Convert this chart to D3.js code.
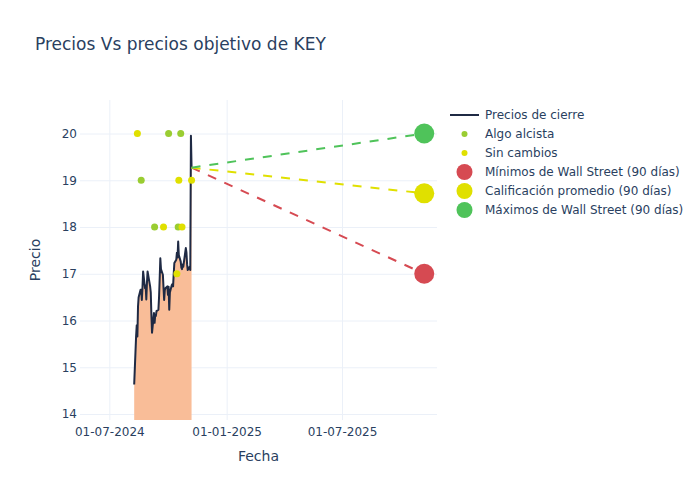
<!DOCTYPE html>
<html>
<head>
<meta charset="utf-8">
<script src="https://cdn.jsdelivr.net/npm/d3@7"></script>
<style>
  html, body { margin: 0; padding: 0; background: #fff; }
  svg, svg text { font-family: "DejaVu Sans", Verdana, sans-serif; }
</style>
</head>
<body>
<svg id="chart" width="700" height="500"></svg>
<script>
// ---------- data ----------
const priceDates = [
  "2024-08-09","2024-08-12","2024-08-13","2024-08-14","2024-08-15","2024-08-16",
  "2024-08-19","2024-08-20","2024-08-21","2024-08-22","2024-08-23",
  "2024-08-26","2024-08-27","2024-08-28","2024-08-29","2024-08-30",
  "2024-09-03","2024-09-04","2024-09-05","2024-09-06",
  "2024-09-09","2024-09-10","2024-09-11","2024-09-12","2024-09-13",
  "2024-09-16","2024-09-17","2024-09-18","2024-09-19","2024-09-20",
  "2024-09-23","2024-09-24","2024-09-25","2024-09-26","2024-09-27",
  "2024-09-30","2024-10-01","2024-10-02","2024-10-03","2024-10-04",
  "2024-10-07","2024-10-08","2024-10-09","2024-10-10","2024-10-11",
  "2024-10-14","2024-10-15","2024-10-16","2024-10-17","2024-10-18",
  "2024-10-21","2024-10-22","2024-10-23","2024-10-24","2024-10-25",
  "2024-10-28","2024-10-29","2024-10-30","2024-10-31","2024-11-01",
  "2024-11-04","2024-11-05","2024-11-06","2024-11-07"
];
const closePrices = [
  14.63,15.66,15.90,15.66,16.30,16.50,
  16.66,16.66,16.44,16.70,17.05,
  16.69,16.75,16.45,16.80,17.05,
  16.73,16.60,16.12,15.74,
  16.16,15.95,16.12,16.10,16.20,
  16.23,16.50,16.90,17.33,17.10,
  16.98,16.70,16.44,16.65,16.69,
  16.73,16.55,16.72,16.23,16.60,
  16.76,16.78,16.73,17.00,17.23,
  17.30,17.45,17.35,17.69,17.40,
  17.26,17.13,17.10,17.20,17.15,
  17.45,17.55,17.45,17.20,17.08,
  17.15,17.08,19.95,19.27
];

const ratingDates  = ["2024-08-14","2024-10-02","2024-10-21","2024-08-20","2024-10-18","2024-11-07",
                      "2024-09-10","2024-09-24","2024-10-17","2024-10-23","2024-10-15"];
const ratingValues = [20, 20, 20, 19, 19, 19, 18, 18, 18, 18, 17];
const ratingTypes  = ["Sin cambios","Algo alcista","Algo alcista","Algo alcista","Sin cambios","Sin cambios",
                      "Algo alcista","Sin cambios","Algo alcista","Sin cambios","Sin cambios"];

const targetDate = "2025-11-07";
const targetNames  = ["Mínimos de Wall Street (90 días)","Calificación promedio (90 días)","Máximos de Wall Street (90 días)"];
const targetValues = [17.0, 18.72, 20.0];

const xTickDates = ["2024-07-01","2025-01-01","2025-07-01"];
const yTickValues = [14, 15, 16, 17, 18, 19, 20];

// ---------- styles ----------
const FONT = '"DejaVu Sans", Verdana, sans-serif';
const textColor = "#2a3f5f";
const gridColor = "#ebf0f8";
const lineColor = "#1f2a44";
const fillColor = "#f9bd98";
const ratingColors = { "Algo alcista": "#9acd32", "Sin cambios": "#e0e000" };
const targetColors = ["#d64a52", "#e0e000", "#4fc35a"];

const parse = d3.timeParse("%Y-%m-%d");
const svg = d3.select("#chart");
const plot = { left: 80, right: 437, top: 100, bottom: 420 };

const x = d3.scaleTime()
  .domain([parse("2024-05-16"), parse("2025-11-27")])
  .range([plot.left, plot.right]);
const y = d3.scaleLinear()
  .domain([13.872, 20.717])
  .range([plot.bottom, plot.top]);

svg.append("defs").append("clipPath").attr("id", "clip")
  .append("rect").attr("x", plot.left).attr("y", plot.top)
  .attr("width", plot.right - plot.left).attr("height", plot.bottom - plot.top);

// gridlines via axes
const yAxis = d3.axisLeft(y).tickValues(yTickValues).tickSize(-(plot.right - plot.left)).tickPadding(3).tickFormat(d3.format("d"));
const gy = svg.append("g").attr("transform", `translate(${plot.left},0)`).call(yAxis)
  .attr("font-family", FONT);
gy.select(".domain").remove();
gy.selectAll(".tick line").attr("stroke", gridColor).attr("stroke-width", 1);
gy.selectAll(".tick text").attr("fill", textColor).attr("font-size", 12).attr("x", -3);

const xAxis = d3.axisBottom(x).tickValues(xTickDates.map(parse)).tickSize(-(plot.bottom - plot.top)).tickPadding(3).tickFormat(d3.timeFormat("%d-%m-%Y"));
const gx = svg.append("g").attr("transform", `translate(0,${plot.bottom})`).call(xAxis)
  .attr("font-family", FONT);
gx.select(".domain").remove();
gx.selectAll(".tick line").attr("stroke", gridColor).attr("stroke-width", 1);
gx.selectAll(".tick text").attr("fill", textColor).attr("font-size", 12).attr("y", 0).attr("dy", "1.3em");

const series = priceDates.map((d, i) => ({ date: parse(d), value: closePrices[i] }));

const g = svg.append("g").attr("clip-path", "url(#clip)");

// area fill
g.append("path").datum(series)
  .attr("fill", fillColor)
  .attr("d", d3.area().x(d => x(d.date)).y0(y(0)).y1(d => y(d.value)));

// price line
g.append("path").datum(series)
  .attr("fill", "none").attr("stroke", lineColor).attr("stroke-width", 2)
  .attr("stroke-linejoin", "round")
  .attr("d", d3.line().x(d => x(d.date)).y(d => y(d.value)));

// dashed target lines
const last = series[series.length - 1];
targetValues.forEach((v, i) => {
  g.append("line")
    .attr("x1", x(last.date)).attr("y1", y(last.value))
    .attr("x2", x(parse(targetDate))).attr("y2", y(v))
    .attr("stroke", targetColors[i]).attr("stroke-width", 2)
    .attr("stroke-dasharray", "9,9");
});

// rating dots
ratingDates.forEach((d, i) => {
  g.append("circle")
    .attr("cx", x(parse(d))).attr("cy", y(ratingValues[i])).attr("r", 3.5)
    .attr("fill", ratingColors[ratingTypes[i]]);
});

// target markers
targetValues.forEach((v, i) => {
  svg.append("circle")
    .attr("cx", x(parse(targetDate))).attr("cy", y(v)).attr("r", 10)
    .attr("fill", targetColors[i]);
});

// title
svg.append("text").attr("x", 35).attr("y", 50)
  .attr("fill", textColor).attr("font-size", 17)
  .text("Precios Vs precios objetivo de KEY");

// axis titles
svg.append("text").attr("x", (plot.left + plot.right) / 2).attr("y", 461)
  .attr("text-anchor", "middle").attr("fill", textColor).attr("font-size", 14).text("Fecha");
svg.append("text").attr("transform", `translate(40,${(plot.top + plot.bottom) / 2}) rotate(-90)`)
  .attr("text-anchor", "middle").attr("fill", textColor).attr("font-size", 14).text("Precio");

// legend
const legendItems = [
  { name: "Precios de cierre", type: "line", color: lineColor },
  { name: "Algo alcista", type: "dot", color: ratingColors["Algo alcista"] },
  { name: "Sin cambios", type: "dot", color: ratingColors["Sin cambios"] },
  { name: targetNames[0], type: "big", color: targetColors[0] },
  { name: targetNames[1], type: "big", color: targetColors[1] },
  { name: targetNames[2], type: "big", color: targetColors[2] }
];
const lg = svg.append("g");
legendItems.forEach((it, i) => {
  const cy = 115 + i * 19;
  if (it.type === "line") {
    lg.append("line").attr("x1", 450).attr("x2", 479).attr("y1", cy).attr("y2", cy)
      .attr("stroke", it.color).attr("stroke-width", 2);
  } else {
    lg.append("circle").attr("cx", 464.5).attr("cy", cy).attr("r", it.type === "dot" ? 3 : 8)
      .attr("fill", it.color);
  }
  lg.append("text").attr("x", 485).attr("y", cy).attr("dy", "0.35em")
    .attr("fill", textColor).attr("font-size", 12).text(it.name);
});
</script>
</body>
</html>
